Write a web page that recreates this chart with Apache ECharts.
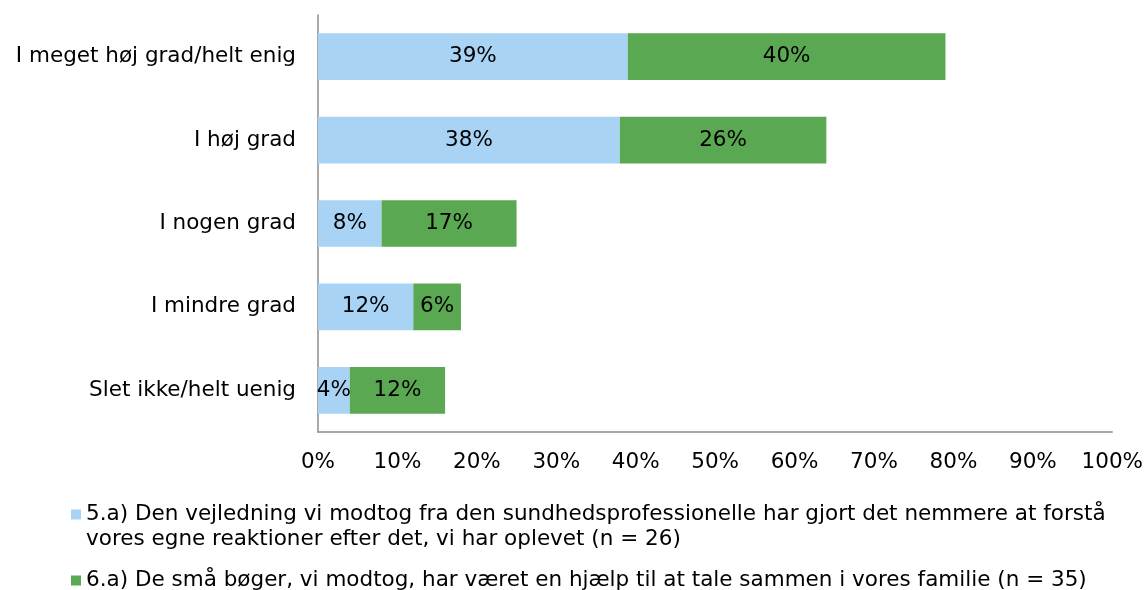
<!DOCTYPE html>
<html>
<head>
<meta charset="UTF-8">
<style>
html, body { margin: 0; padding: 0; background: #fff; }
#chart_div { width: 1146px; height: 590px; }
</style>
</head>
<body>
<div id="chart_div"></div>
<script type="text/javascript" src="https://cdn.jsdelivr.net/npm/echarts@6/dist/echarts.min.js"></script>
<script type="text/javascript">
// data
var categories = ["I meget høj grad/helt enig", "I høj grad", "I nogen grad", "I mindre grad", "Slet ikke/helt uenig"];
var seriesNames = [
	"5.a) Den vejledning vi modtog fra den sundhedsprofessionelle har gjort det nemmere at forstå\nvores egne reaktioner efter det, vi har oplevet (n = 26)",
	"6.a) De små bøger, vi modtog, har været en hjælp til at tale sammen i vores familie (n = 35)"
];
var values5a = [39, 38, 8, 12, 4];
var values6a = [40, 26, 17, 6, 12];
var xTicks = [0, 10, 20, 30, 40, 50, 60, 70, 80, 90, 100];

var font = "DejaVu Sans, Verdana, sans-serif";
var fsize = 21.5;
var myChart = echarts.init(document.getElementById('chart_div'));

function barSeries(name, data, color) {
	return {
		name: name,
		type: 'bar',
		stack: 'total',
		barWidth: '56%',
		data: data,
		itemStyle: { color: color },
		label: {
			show: true,
			position: 'inside',
			color: '#000',
			fontFamily: font,
			fontSize: fsize,
			formatter: function (p) { return p.value + "%"; }
		}
	};
}

var option = {
	animation: false,
	grid: { left: 318, right: 33, top: 15, bottom: 158 },
	xAxis: {
		type: 'value',
		min: xTicks[0],
		max: xTicks[xTicks.length - 1],
		interval: 10,
		splitLine: { show: false },
		axisTick: { show: false },
		axisLine: { show: true, lineStyle: { color: '#8c8c8c', width: 1.5 } },
		axisLabel: {
			margin: 19,
			color: '#000',
			fontFamily: font,
			fontSize: fsize,
			formatter: function (v) { return v + "%"; }
		}
	},
	yAxis: {
		type: 'category',
		inverse: true,
		data: categories,
		axisTick: { show: false },
		axisLine: { show: true, lineStyle: { color: '#8c8c8c', width: 1.5 } },
		axisLabel: { margin: 22, color: '#000', fontFamily: font, fontSize: fsize }
	},
	legend: [{
		data: [seriesNames[0]],
		// empty first line so the icon sits beside the first text line
		formatter: function (n) { return "\n" + n; },
		orient: 'vertical',
		left: 71,
		top: 477,
		padding: 0,
		icon: 'rect',
		itemWidth: 10,
		itemHeight: 10,
		textStyle: { color: '#000', fontFamily: font, fontSize: fsize, lineHeight: 25 }
	}, {
		data: [seriesNames[1]],
		orient: 'vertical',
		left: 71,
		top: 568,
		padding: 0,
		icon: 'rect',
		itemWidth: 10,
		itemHeight: 10,
		textStyle: { color: '#000', fontFamily: font, fontSize: fsize, lineHeight: 25 }
	}],
	series: [
		barSeries(seriesNames[0], values5a, '#a9d3f4'),
		barSeries(seriesNames[1], values6a, '#5ba853')
	]
};

myChart.setOption(option, true);
</script>
</body>
</html>
